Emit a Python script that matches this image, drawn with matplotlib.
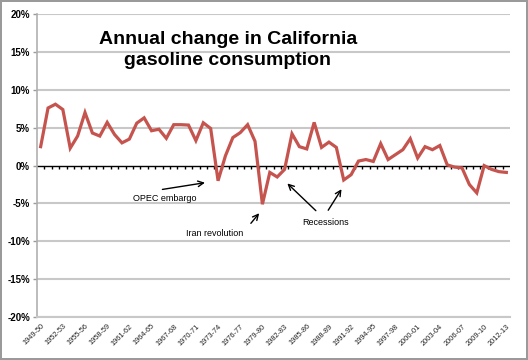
import matplotlib
matplotlib.use('Agg')
import matplotlib.pyplot as plt

plt.rcParams['font.family'] = ['Liberation Sans', 'DejaVu Sans']

# fiscal years 1949-50 .. 2012-13
years = [f'{y}-{str(y + 1)[-2:]}' for y in range(1949, 2013)]

# annual % change in California gasoline consumption
pct_change = [
    2.5, 7.6, 8.1, 7.4, 2.3, 3.9, 7.0, 4.3, 3.9, 5.7,
    4.1, 3.0, 3.5, 5.6, 6.3, 4.6, 4.8, 3.6, 5.4, 5.4,
    5.35, 3.3, 5.65, 4.9, -2.0, 1.3, 3.7, 4.35, 5.4, 3.2,
    -5.1, -0.9, -1.5, -0.5, 4.2, 2.5, 2.2, 5.7, 2.4, 3.1,
    2.4, -1.9, -1.2, 0.6, 0.8, 0.55, 2.9, 0.8, 1.45, 2.1,
    3.55, 1.0, 2.5, 2.1, 2.65, 0.1, -0.2, -0.3, -2.5, -3.6,
    0.0, -0.5, -0.8, -0.9,
]
yticks = [-20, -15, -10, -5, 0, 5, 10, 15, 20]

x = list(range(len(years)))

fig = plt.figure(figsize=(5.28, 3.6), dpi=100, linewidth=1.5, edgecolor='#9a9a9a')
ax = fig.add_axes([0.070, 0.119, 0.896, 0.842])

for v in yticks:
    if v != 0:
        ax.axhline(v, color='#c8c8c8', lw=1.5, zorder=1)

# zero line with small category tick marks
ax.axhline(0, color='black', lw=1.0, zorder=2)
ax.vlines([i - 0.5 for i in x[1:]], -0.45, 0, color='black', lw=1.0, zorder=2)

ax.plot(x, pct_change, color='#c5544f', lw=2.3, solid_joinstyle='miter', zorder=3)

ax.set_xlim(-0.5, len(years) - 0.5)
ax.set_ylim(-20, 20)
ax.set_yticks(yticks)
ax.set_yticklabels([f'{v}%' for v in yticks], fontsize=7, fontweight='bold')
ax.tick_params(axis='y', length=3, color='#9a9a9a', width=1, pad=2)

ax.set_xticks(x[::3])
ax.set_xticklabels(years[::3], rotation=45, ha='right', va='top',
                   rotation_mode='anchor', fontsize=5.3, color='#222222')
ax.tick_params(axis='x', length=0, pad=4)

for s in ['top', 'right']:
    ax.spines[s].set_visible(False)
ax.spines['left'].set_color('#b0b0b0')
ax.spines['bottom'].set_color('#c8c8c8')
ax.spines['left'].set_linewidth(1.2)
ax.spines['bottom'].set_linewidth(1.5)

ax.text(25.3, 15.2, 'Annual change in California\ngasoline consumption',
        ha='center', va='center', fontsize=14, fontweight='bold', linespacing=1.3)

arrow = dict(arrowstyle='->', color='black', lw=1.0, mutation_scale=10)
ax.text(16.8, -4.4, 'OPEC embargo', ha='center', va='center', fontsize=6.5)
ax.annotate('', xy=(22.6, -2.2), xytext=(16.1, -3.2), arrowprops=arrow)

ax.text(23.5, -8.9, 'Iran revolution', ha='center', va='center', fontsize=6.5)
ax.annotate('', xy=(29.8, -6.0), xytext=(28.2, -7.9), arrowprops=arrow)

ax.text(38.6, -7.5, 'Recessions', ha='center', va='center', fontsize=6.5)
ax.annotate('', xy=(33.1, -2.1), xytext=(37.5, -6.2), arrowprops=arrow)
ax.annotate('', xy=(40.9, -2.8), xytext=(38.7, -6.2), arrowprops=arrow)

fig.savefig('out.png', dpi=100)
